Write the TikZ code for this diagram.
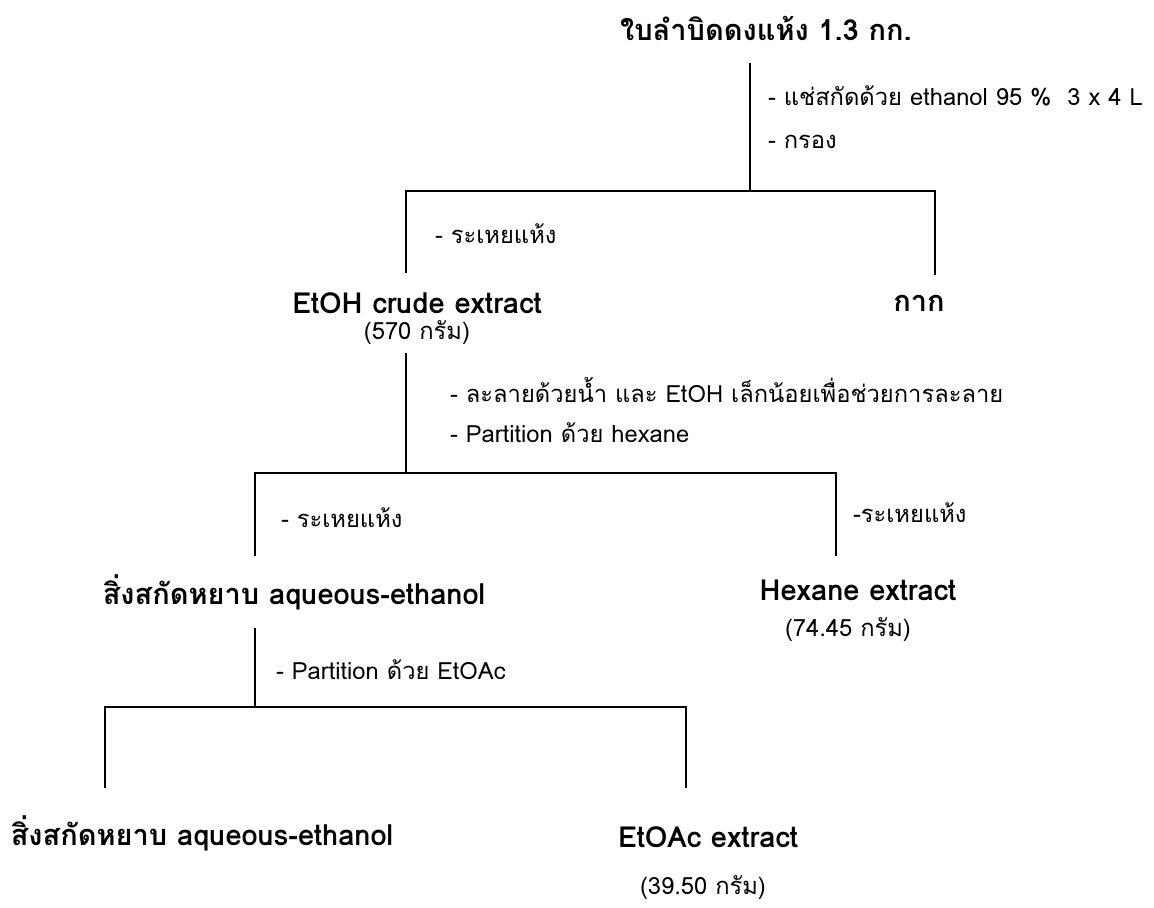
\documentclass[tikz,border=0pt]{standalone}
\usepackage{fontspec}
\setmainfont[Script=Thai]{Loma}
\usetikzlibrary{positioning}
\tikzset{
every node/.style={inner sep=0pt,outer sep=0pt},
style1/.style= {font=\bfseries\fontsize{16.5}{19}\selectfont,anchor=center},
style2/.style= {font=\fontsize{13.5}{16}\selectfont,anchor=west},
style3/.style= {font=\fontsize{13.5}{16}\selectfont,anchor=center}
}

\begin{document}
\begin{tikzpicture}[x=0.02cm,y=-0.02cm,line width=0.9pt]
\useasboundingbox (0,0) rectangle (1154,907);

\node[style1] (root) at (766,28) {ใบลำบิดดงแห้ง 1.3 กก.};
\node[style2] (n1) at (768,96) {- แช่สกัดด้วย ethanol 95 \%\ \ 3 x 4 L};
\node[style2] (n2) at (768,142) {- กรอง};

\node[style2] (n3) at (435,234) {- ระเหยแห้ง};
\node[style1] (c1) at (417,303) {EtOH crude extract};
\node[style3] (c1w) at (417,333) {(570 กรัม)};
\node[style1] (c2) at (919,303) {กาก};

\node[style2] (n4) at (450,390) {- ละลายด้วยน้ำ และ EtOH เล็กน้อยเพื่อช่วยการละลาย};
\node[style2] (n5) at (450,433) {- Partition ด้วย hexane};

\node[style2] (n6) at (281,518) {- ระเหยแห้ง};
\node[style2] (n7) at (853,513) {-ระเหยแห้ง};
\node[style1] (c11) at (294,592) {สิ่งสกัดหยาบ aqueous-ethanol};
\node[style1] (c12) at (858,590) {Hexane extract};
\node[style3] (c12w) at (848,630) {(74.45 กรัม)};

\node[style2] (n8) at (276,670) {- Partition ด้วย EtOAc};
\node[style1] (c111) at (202,833) {สิ่งสกัดหยาบ aqueous-ethanol};
\node[style1] (c112) at (708,837) {EtOAc extract};
\node[style3] (c112w) at (703,888) {(39.50 กรัม)};

\foreach \k/\xt/\yt/\yb/\xl/\xr/\yl/\yr in {1/750/63/191/406/935/273/275,2/406/353/473/255/836/556/556,3/255/628/707/105/686/788/788}{
  \coordinate (t\k) at (\xt,\yt);
  \coordinate (j\k) at (\xt,\yb);
  \coordinate (l\k) at (\xl,\yl);
  \coordinate (r\k) at (\xr,\yr);
  \draw (t\k) -- (j\k);
  \draw (l\k) |- (j\k) -| (r\k);
}
\end{tikzpicture}
\end{document}
